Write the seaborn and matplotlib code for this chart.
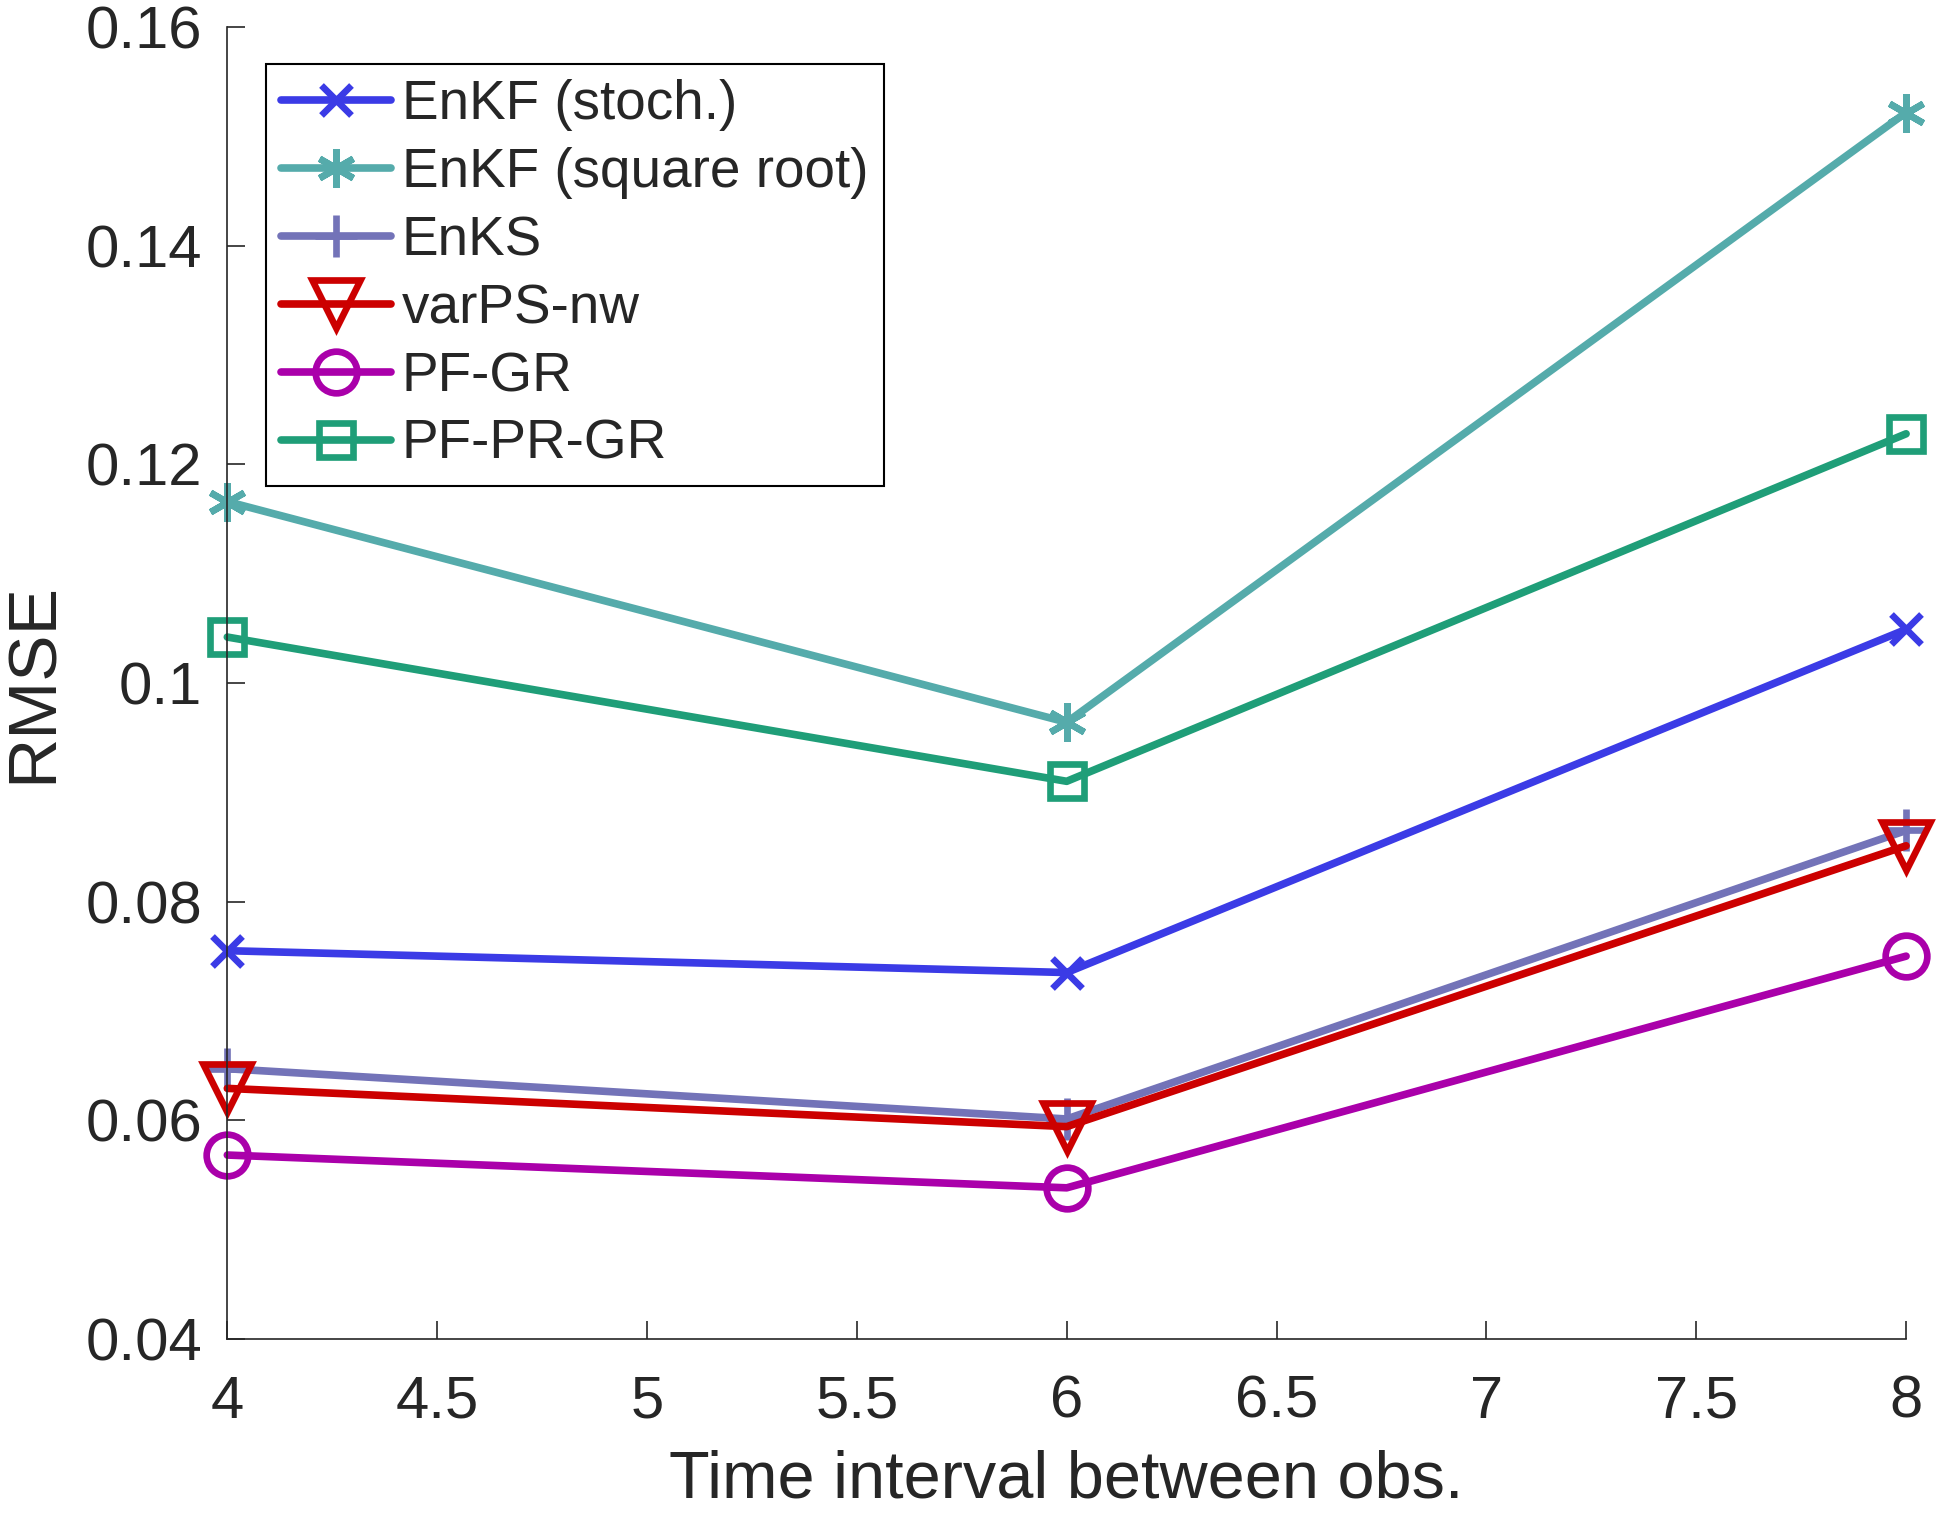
import numpy as np
import pandas as pd
import seaborn as sns
import matplotlib
matplotlib.use("Agg")
import matplotlib.pyplot as plt

# values
interval = [4, 6, 8]
enkf_stoch = [0.0755, 0.0735, 0.1049]
enkf_sqrt = [0.1166, 0.0964, 0.1522]
enks = [0.0647, 0.0601, 0.0865]
varps_nw = [0.0629, 0.0594, 0.0851]
pf_gr = [0.0568, 0.0538, 0.0750]
pf_pr_gr = [0.1042, 0.0910, 0.1228]

names = ["EnKF (stoch.)", "EnKF (square root)", "EnKS", "varPS-nw", "PF-GR", "PF-PR-GR"]
series = [enkf_stoch, enkf_sqrt, enks, varps_nw, pf_gr, pf_pr_gr]
colors = ["#3b3be6", "#55abab", "#7373b8", "#cc0000", "#aa00aa", "#1f9e78"]
markers = ["x", (6, 2, 0), "+", "v", "o", "s"]
msizes = [22, 28, 30, 35, 30, 25]

yticks = [0.04, 0.06, 0.08, 0.1, 0.12, 0.14, 0.16]
ytick_labels = ["0.04", "0.06", "0.08", "0.1", "0.12", "0.14", "0.16"]
xticks = [4, 4.5, 5, 5.5, 6, 6.5, 7, 7.5, 8]
xtick_labels = ["4", "4.5", "5", "5.5", "6", "6.5", "7", "7.5", "8"]

sns.set_style("white")
plt.rcParams["font.family"] = ["Liberation Sans", "DejaVu Sans"]

df = pd.DataFrame({
    "interval": np.tile(interval, len(names)),
    "rmse": np.concatenate(series),
    "method": np.repeat(names, len(interval)),
})

fig = plt.figure(figsize=(19.43, 15.16), dpi=100)
ax = fig.add_axes([0.117, 0.117, 0.864, 0.865])

for name, c, m, ms in zip(names, colors, markers, msizes):
    sub = df[df["method"] == name]
    sns.lineplot(data=sub, x="interval", y="rmse", ax=ax, color=c, linewidth=5.5,
                 marker=m, markersize=ms, markeredgewidth=4.8,
                 markerfacecolor="none" if m in ("v", "o", "s") else c,
                 markeredgecolor=c, label=name, clip_on=False)

ax.set_xlim(4, 8)
ax.set_ylim(0.04, 0.16)
ax.set_xticks(xticks)
ax.set_xticklabels(xtick_labels)
ax.set_yticks(yticks)
ax.set_yticklabels(ytick_labels)
ax.tick_params(axis="both", direction="in", length=13, width=1.2, color="#262626",
               labelsize=43, labelcolor="#262626", bottom=True, left=True)
ax.tick_params(axis="x", pad=26)
ax.tick_params(axis="y", pad=18)
for s in ["top", "right"]:
    ax.spines[s].set_visible(False)
for s in ["left", "bottom"]:
    ax.spines[s].set_color("#262626")
    ax.spines[s].set_linewidth(1.2)

ax.set_xlabel("Time interval between obs.", fontsize=48, color="#262626", labelpad=14)
ax.set_ylabel("RMSE", fontsize=50, color="#262626", labelpad=14)

leg = ax.legend(loc="upper left", bbox_to_anchor=(0.023, 0.972), borderaxespad=0,
                fontsize=39.5, frameon=True, fancybox=False, framealpha=1,
                edgecolor="black", handlelength=2.0, handletextpad=0.2,
                labelspacing=0.29, borderpad=0.28)
leg.get_frame().set_linewidth(1.5)

fig.savefig("out.png", dpi=100)
